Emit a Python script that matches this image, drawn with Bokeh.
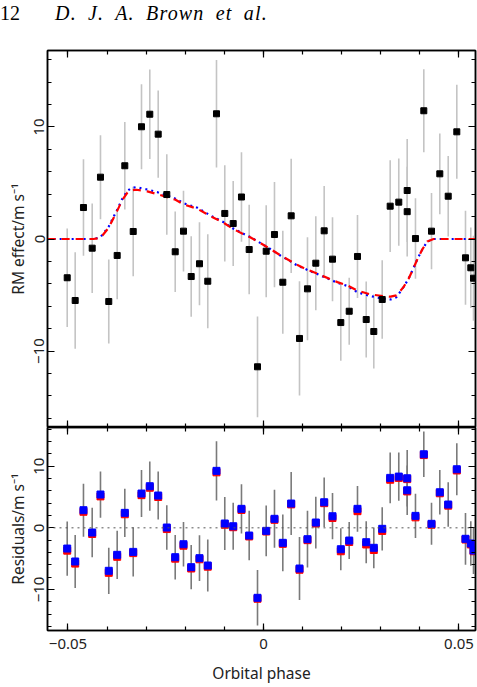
import numpy as np
from bokeh.plotting import figure
from bokeh.layouts import column
from bokeh.models import (ColumnDataSource, LinearAxis, FixedTicker,
                          CustomJSTickFormatter, Span, Range1d, Div)
from bokeh.embed import file_html
from bokeh.resources import INLINE

# ---------------- data ----------------
phase = [-0.05020, -0.04816, -0.04604, -0.04381, -0.04169, -0.03957, -0.03742,
         -0.03547, -0.03332, -0.03120, -0.02908, -0.02693, -0.02473, -0.02258,
         -0.02046, -0.01849, -0.01637, -0.01425, -0.01202, -0.00990, -0.00775,
         -0.00563, -0.00366, -0.00153, 0.00069, 0.00281, 0.00494, 0.00708,
         0.00921, 0.01125, 0.01338, 0.01552, 0.01765, 0.01977, 0.02192, 0.02404,
         0.02627, 0.02821, 0.03036, 0.03240, 0.03460, 0.03675, 0.03675, 0.03887,
         0.04100, 0.04297, 0.04509, 0.04724, 0.04944, 0.05166, 0.05302, 0.05371]

rm_effect = [-3.46, -5.49, 2.81, -0.82, 5.52, -5.58, -1.47, 6.54, 0.67, 10.02,
             11.14, 9.36, 3.97, -1.14, 0.70, -3.35, -2.21, -3.77, 11.18, 2.28,
             1.38, 3.75, -0.94, -11.41, -1.09, 0.40, -3.86, 2.07, -8.88, -4.45,
             -2.16, 0.73, -1.80, -7.46, -6.45, -1.56, -7.19, -8.26, -5.40, 2.93,
             3.29, 4.33, 2.44, 0.04, 11.45, 0.70, 5.82, 3.82, 9.57, -1.68, -2.57,
             -3.50]

rm_error = [4.4, 4.3, 4.3, 4.0, 3.75, 3.75, 3.9, 3.9, 4.0, 3.8, 4.0, 3.9, 3.6,
            3.6, 3.6, 3.6, 3.7, 4.2, 4.8, 4.3, 3.8, 4.0, 4.0, 4.5, 4.1, 4.7, 4.6,
            5.1, 5.1, 4.6, 4.2, 4.0, 3.75, 3.4, 3.0, 3.7, 3.4, 3.3, 3.5, 4.1, 3.9,
            4.6, 4.0, 3.6, 3.7, 3.4, 3.6, 3.6, 4.2, 4.2, 3.6, 3.8]

resid_blue = [-3.36, -5.46, 2.86, -0.76, 5.40, -6.97, -4.38, 2.43, -3.90, 5.56,
              6.75, 5.24, 0.05, -4.76, -2.66, -6.38, -4.92, -6.11, 9.24, 0.70,
              0.26, 3.08, -1.25, -11.35, -0.49, 1.46, -2.43, 3.94, -6.60, -1.84,
              0.86, 4.15, 1.88, -3.47, -2.06, 3.08, -2.33, -3.24, -0.16, 8.10,
              8.31, 8.04, 6.09, 1.94, 11.93, 0.65, 5.77, 3.78, 9.50, -1.78, -2.54,
              -3.68]

resid_red = [-3.7, -5.8, 2.6, -1.0, 5.1, -7.3, -4.7, 2.2, -4.1, 5.3, 6.5, 5.0,
             -0.2, -5.0, -2.9, -6.6, -5.1, -6.3, 9.0, 0.5, 0.1, 2.9, -1.4, -11.5,
             -0.6, 1.3, -2.6, 3.8, -6.8, -2.0, 0.7, 4.0, 1.6, -3.8, -2.3, 2.7,
             -2.7, -3.6, -0.5, 7.8, 8.1, 7.9, 5.9, 1.7, 11.8, 0.5, 5.6, 3.6, 9.3,
             -1.9, -2.7, -3.8]

model_phase = [-0.0552, -0.0435, -0.0417, -0.0396, -0.0386, -0.0373, -0.0361,
               -0.0348, -0.0338, -0.0325, -0.0297, -0.0271, -0.0225, -0.0205,
               -0.0169, -0.0136, -0.0102, -0.0079, -0.0051, -0.0033, 0.0010,
               0.0043, 0.0087, 0.0115, 0.0146, 0.0189, 0.0215, 0.0240, 0.0274,
               0.0307, 0.0325, 0.0340, 0.0358, 0.0371, 0.0381, 0.0394, 0.0407,
               0.0419, 0.0435, 0.0552]
model_blue = [0, 0, 0.16, 1.1, 1.8, 2.7, 3.6, 4.3, 4.55, 4.63, 4.42, 4.18, 3.6,
              3.2, 2.79, 2.1, 1.5, 0.96, 0.46, 0.16, -0.73, -1.47, -2.37, -2.8,
              -3.26, -3.9, -4.2, -4.75, -5.1, -5.34, -5.4, -5.2, -4.3, -3.55,
              -2.8, -1.77, -0.88, -0.22, 0, 0]
model_red = [0, 0, 0.1, 1.0, 1.7, 2.6, 3.5, 4.15, 4.35, 4.4, 4.25, 4.0, 3.5, 3.1,
             2.7, 2.05, 1.45, 0.92, 0.43, 0.14, -0.73, -1.45, -2.33, -2.78,
             -3.22, -3.85, -4.15, -4.6, -4.95, -5.1, -5.15, -5.04, -4.3, -3.55,
             -2.8, -1.77, -0.88, -0.22, 0, 0]

x_major = [-0.05, 0, 0.05]
x_minor = [-0.05, -0.04, -0.03, -0.02, -0.01, 0, 0.01, 0.02, 0.03, 0.04, 0.05]
y_major = [-10, 0, 10]
y_minor = [-16, -14, -12, -10, -8, -6, -4, -2, 0, 2, 4, 6, 8, 10, 12, 14, 16]

FONT = "Noto Sans"
TXT = "#222222"

x_fmt = CustomJSTickFormatter(code="""
if (Math.abs(tick) < 1e-9) return '0';
var s = Math.abs(tick).toFixed(2);
return tick < 0 ? '\u2212' + s : s;""")
y_fmt = CustomJSTickFormatter(code="""
var s = Math.abs(tick).toFixed(0);
return tick < 0 ? '\u2212' + s : s;""")


def make_axis(kind, ticks, minor, labels, fmt=None, label=None):
    ax = LinearAxis(ticker=FixedTicker(ticks=ticks, minor_ticks=minor))
    ax.axis_line_color = "black"
    ax.axis_line_width = 1.5
    ax.major_tick_in = 7
    ax.major_tick_out = 0
    ax.minor_tick_in = 4
    ax.minor_tick_out = 0
    ax.major_tick_line_color = "black"
    ax.minor_tick_line_color = "black"
    ax.major_tick_line_width = 1.2
    ax.minor_tick_line_width = 1.2
    if labels:
        ax.formatter = fmt
        ax.major_label_text_font = FONT
        ax.major_label_text_font_size = "15px"
        ax.major_label_text_color = TXT
        if kind == "y":
            ax.major_label_orientation = "vertical"
            ax.major_label_standoff = 3
        else:
            ax.major_label_standoff = 8
        if label:
            ax.axis_label = label
            ax.axis_label_text_font = FONT
            ax.axis_label_text_font_size = "15.5px"
            ax.axis_label_text_font_style = "normal"
            ax.axis_label_text_color = TXT
            ax.axis_label_standoff = 3 if kind == "y" else 10
    else:
        ax.formatter = CustomJSTickFormatter(code="return '';")
        ax.major_label_standoff = 0
    return ax


XR = (-0.05524, 0.05422)
TITLE_H = 28

header = Div(
    text=('<div style="font-family:\'Liberation Serif\',serif;font-size:20px;'
          'color:#000;white-space:nowrap;line-height:24px;padding-top:1px;">'
          '<span>12</span>'
          '<span style="font-style:italic;margin-left:35px;'
          'letter-spacing:1.2px;word-spacing:5px;">'
          'D. J. A. Brown et al.</span></div>'),
    width=477, height=TITLE_H, margin=(0, 0, 0, 0))

# ---------------- top panel ----------------
p1 = figure(width=477, height=427 - TITLE_H, x_range=Range1d(*XR),
            y_range=Range1d(-16.83, 16.83), output_backend="svg",
            toolbar_location=None, x_axis_location=None, y_axis_location=None,
            min_border_left=47, min_border_right=2,
            min_border_top=50 - TITLE_H, min_border_bottom=0)
p1.outline_line_color = "black"
p1.outline_line_width = 1.5
p1.add_layout(make_axis("y", y_major, y_minor, True, y_fmt,
                        "RM effect/m s\u207b\u00b9"), "left")
p1.add_layout(make_axis("y", y_major, y_minor, False), "right")
p1.add_layout(make_axis("x", x_major, x_minor, False), "above")
p1.add_layout(make_axis("x", x_major, x_minor, False), "below")

src = ColumnDataSource(dict(
    x=phase, y=rm_effect,
    lo=[v - e for v, e in zip(rm_effect, rm_error)],
    hi=[v + e for v, e in zip(rm_effect, rm_error)]))
p1.segment("x", "lo", "x", "hi", source=src, line_color="#c4c4c4", line_width=1.6)
p1.line(model_phase, model_blue, line_color="blue", line_width=2.2,
        line_dash="2 4")
p1.line(model_phase, model_red, line_color="red", line_width=2.2,
        line_dash="8 6")
p1.scatter("x", "y", source=src, marker="square", size=6, color="black")

# ---------------- bottom panel ----------------
p2 = figure(width=477, height=260, x_range=p1.x_range,
            y_range=Range1d(-16.65, 16.27), output_backend="svg",
            toolbar_location=None, x_axis_location=None, y_axis_location=None,
            min_border_left=47, min_border_right=2, min_border_top=0,
            min_border_bottom=57)
p2.outline_line_color = "black"
p2.outline_line_width = 1.5
p2.add_layout(make_axis("y", y_major, y_minor, True, y_fmt,
                        "Residuals/m s\u207b\u00b9"), "left")
p2.add_layout(make_axis("y", y_major, y_minor, False), "right")
p2.add_layout(make_axis("x", x_major, x_minor, False), "above")
p2.add_layout(make_axis("x", x_major, x_minor, True, x_fmt, "Orbital phase"),
              "below")

p2.add_layout(Span(location=0, dimension="width", line_color="#555555",
                   line_width=1, line_dash="2 4"))
src2 = ColumnDataSource(dict(
    x=phase, yb=resid_blue, yr=resid_red,
    lo=[v - e for v, e in zip(resid_blue, rm_error)],
    hi=[v + e for v, e in zip(resid_blue, rm_error)]))
p2.segment("x", "lo", "x", "hi", source=src2, line_color="#7a7a7a", line_width=1.6)
p2.scatter("x", "yr", source=src2, marker="square", size=7, color="red")
p2.scatter("x", "yb", source=src2, marker="square", size=7, color="blue")

for p in (p1, p2):
    p.xgrid.grid_line_color = None
    p.ygrid.grid_line_color = None
    p.background_fill_color = "white"
    p.border_fill_color = "white"

layout = column(header, p1, p2, spacing=0)
open("out.html", "w").write(file_html(layout, INLINE))
